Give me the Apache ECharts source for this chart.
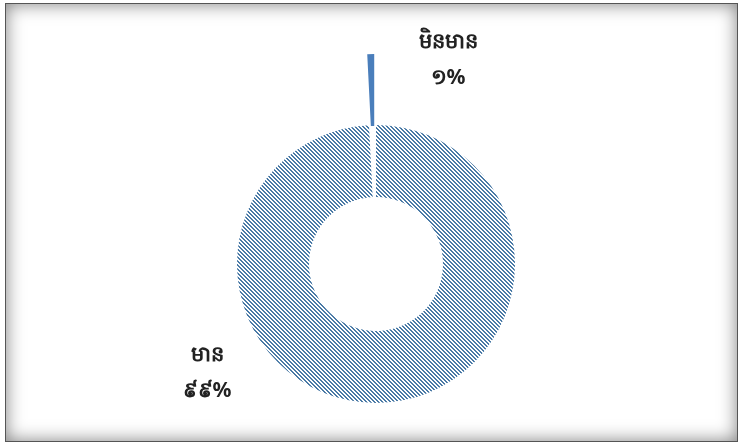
<!DOCTYPE html>
<html>
<head>
<meta charset="utf-8">
<script src="https://cdn.jsdelivr.net/npm/echarts@6/dist/echarts.min.js"></script>
<style>
  html, body { margin: 0; padding: 0; background: #fff; }
  #frame {
    position: absolute; left: 5px; top: 3px; width: 731px; height: 437px;
    border: 1px solid #555;
    box-shadow: inset 0 0 18px rgba(0, 0, 0, 0.5);
  }
  #chart { position: absolute; left: 0; top: 0; width: 739px; height: 446px; }
</style>
</head>
<body>
<div id="frame"></div>
<div id="chart"></div>
<script>
  // slices: clockwise from 12 o'clock
  const names = ['មាន', 'មិនមាន']
  const values = [99.2, 0.8]

  const khmerDigits = ['០', '១', '២', '៣', '៤', '៥', '៦', '៧', '៨', '៩']
  const toKhmer = n => String(n).replace(/[0-9]/g, d => khmerDigits[d])

  // label centres
  const labelPos = [[207, 373], [448, 60]]

  function hatch(color) {
    const c = document.createElement('canvas')
    c.width = 4
    c.height = 4
    const g = c.getContext('2d')
    g.fillStyle = '#ffffff'
    g.fillRect(0, 0, 4, 4)
    g.fillStyle = color
    for (let i = 0; i < 4; i++) {
      g.fillRect(i, i, 1, 1)
      g.fillRect((i + 1) % 4, i, 1, 1)
    }
    return c
  }

  const hatchFill = { image: hatch('#4a7aa6'), repeat: 'repeat' }
  const sliverFill = '#4a7ebb'

  const chart = echarts.init(document.getElementById('chart'))
  chart.setOption({
    animation: false,
    graphic: names.map((n, i) => ({
      type: 'text',
      x: labelPos[i][0],
      y: labelPos[i][1],
      style: {
        text: n + '\n' + toKhmer(Math.round(values[i])) + '%',
        font: 'bold 21px "Noto Sans", "DejaVu Sans", sans-serif',
        lineHeight: 36,
        fill: '#222',
        align: 'center',
        verticalAlign: 'middle'
      }
    })),
    series: [{
      type: 'pie',
      center: [376, 264],
      radius: [67, 139],
      startAngle: 90,
      clockwise: true,
      selectedMode: 'single',
      selectedOffset: 71,
      emphasis: { disabled: true },
      label: { show: false },
      labelLine: { show: false },
      data: names.map((n, i) => ({
        name: n,
        value: values[i],
        selected: i === 1,
        itemStyle: { color: i === 1 ? sliverFill : hatchFill },
        select: { itemStyle: { color: i === 1 ? sliverFill : hatchFill } }
      }))
    }]
  })
</script>
</body>
</html>
